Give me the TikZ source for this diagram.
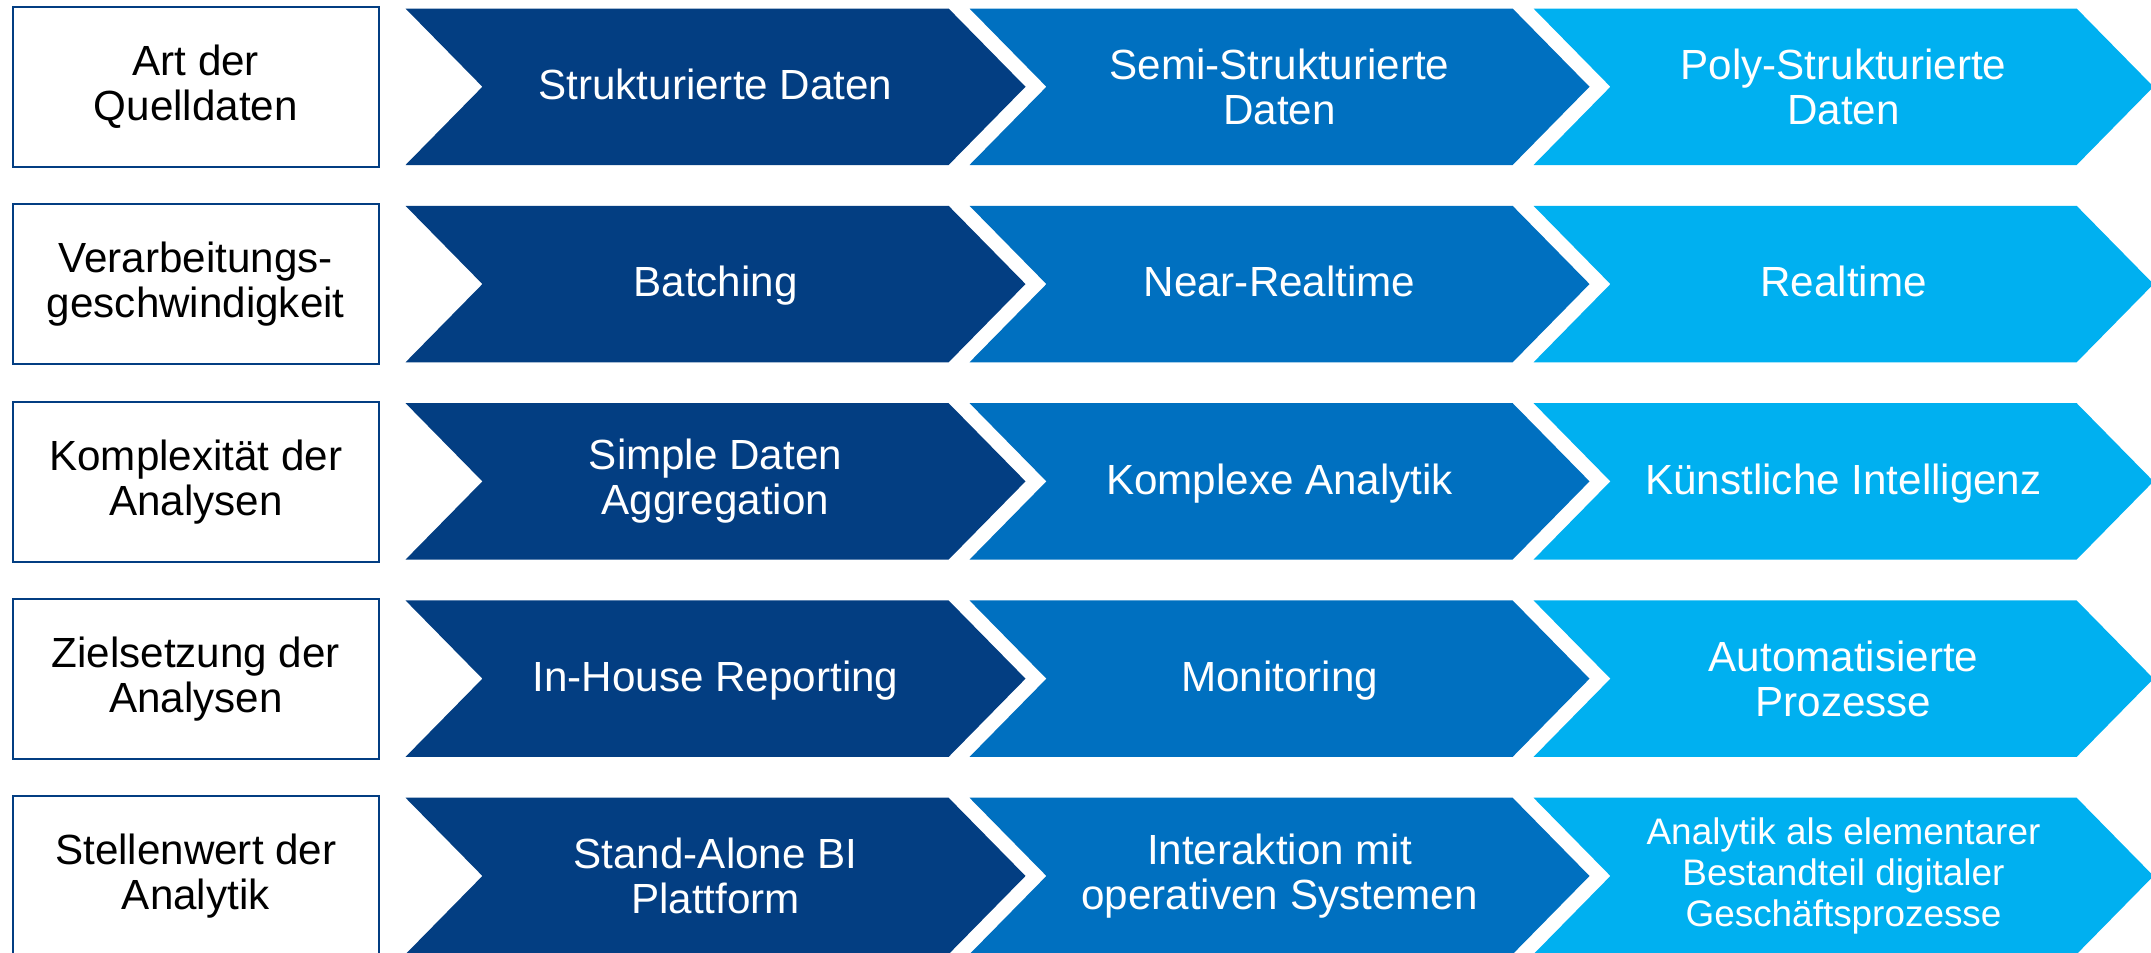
\documentclass[tikz,border=0pt]{standalone}
\usepackage{fontspec}
\setmainfont{Liberation Sans}
\usetikzlibrary{shapes.symbols,positioning}
\definecolor{navy}{RGB}{3,62,130}
\definecolor{midblue}{RGB}{0,112,192}
\definecolor{skyblue}{RGB}{0,176,240}

\begin{document}
\begin{tikzpicture}[
    every node/.style={font=\fontsize{12}{12.8}\selectfont, inner sep=0pt}]

    \tikzstyle{rowbox}=[rectangle, draw=navy, line width=0.6pt, minimum width=3.66cm, minimum height=1.6cm, align=center, text=black]
    \tikzstyle{chev}=[signal, signal from=west, signal to=east, signal pointer angle=91, minimum width=6.2cm, minimum height=1.565cm, align=center, text=white]
    \tikzstyle{oneline}=[text height=0.72em, text depth=0pt]

    \useasboundingbox (0,0) rectangle (21.51,-9.52);

    % Art der Quelldaten
    \node[rowbox] (q0) at (1.958,-0.87) {Art der\\Quelldaten};
    \node[chev, oneline, fill=navy] (q1) at (7.155,-0.8675) {Strukturierte Daten};
    \node[chev, fill=midblue] (q2) at (12.795,-0.8675) {Semi-Strukturierte\\Daten};
    \node[chev, fill=skyblue] (q3) at (18.435,-0.8675) {Poly-Strukturierte\\Daten};

    % Verarbeitungsgeschwindigkeit
    \node[rowbox] (v0) at (1.958,-2.843) {Verarbeitungs-\\geschwindigkeit};
    \node[chev, oneline, fill=navy] (v1) at (7.155,-2.8405) {Batching};
    \node[chev, oneline, fill=midblue] (v2) at (12.795,-2.8405) {Near-Realtime};
    \node[chev, oneline, fill=skyblue] (v3) at (18.435,-2.8405) {Realtime};

    % Komplexitaet
    \node[rowbox] (k0) at (1.958,-4.816) {Komplexität der\\Analysen};
    \node[chev, fill=navy] (k1) at (7.155,-4.8135) {Simple Daten\\Aggregation};
    \node[chev, oneline, fill=midblue] (k2) at (12.795,-4.8135) {Komplexe Analytik};
    \node[chev, oneline, fill=skyblue] (k3) at (18.435,-4.8135) {Künstliche Intelligenz};

    % Zielsetzung
    \node[rowbox] (z0) at (1.958,-6.789) {Zielsetzung der\\Analysen};
    \node[chev, oneline, fill=navy] (z1) at (7.155,-6.7865) {In-House Reporting};
    \node[chev, oneline, fill=midblue] (z2) at (12.795,-6.7865) {Monitoring};
    \node[chev, fill=skyblue] (z3) at (18.435,-6.7865) {Automatisierte\\Prozesse};

    % Stellenwert
    \node[rowbox] (s0) at (1.958,-8.762) {Stellenwert der\\Analytik};
    \node[chev, fill=navy] (s1) at (7.155,-8.7595) {Stand-Alone BI\\Plattform};
    \node[chev, fill=midblue] (s2) at (12.795,-8.7595) {Interaktion mit\\operativen Systemen};
    \node[chev, fill=skyblue, font=\fontsize{10.5}{11.7}\selectfont] (s3) at (18.435,-8.7595) {Analytik als elementarer\\Bestandteil digitaler\\Geschäftsprozesse};

\end{tikzpicture}
\end{document}
